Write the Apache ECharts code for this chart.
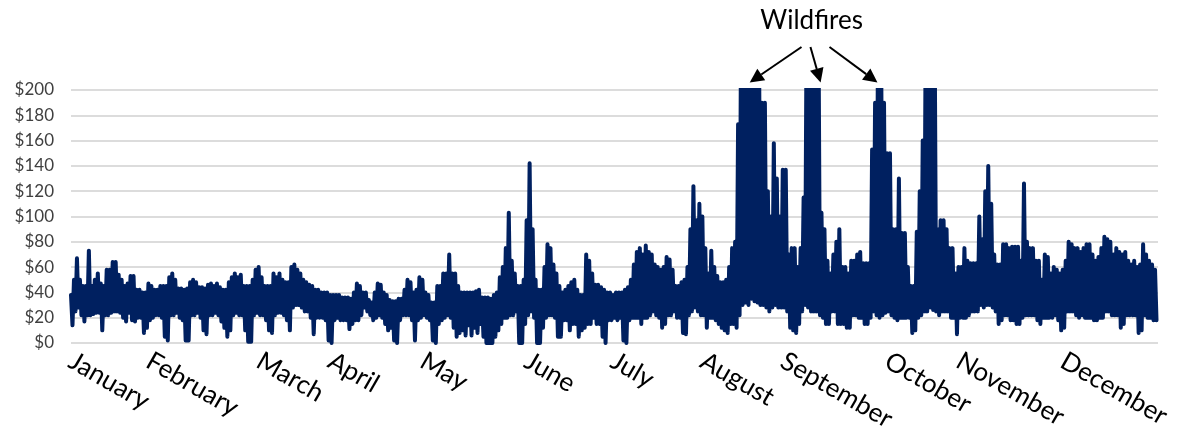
<!DOCTYPE html>
<html><head><meta charset="utf-8">
<script src="https://cdn.jsdelivr.net/npm/echarts@6/dist/echarts.min.js"></script>
<style>html,body{margin:0;padding:0;background:#fff}#c{width:1186px;height:442px}</style>
</head><body><div id="c"></div>
<script>
// Daily high / low price (index = day of year)
const dailyHigh = [
 38,50,67,50,45,45,73,45,50,55,
 47,45,58,58,64,64,54,50,45,47,
 53,53,42,42,40,40,47,45,42,42,
 45,45,45,52,55,50,43,43,42,43,
 48,50,48,44,44,43,46,47,45,47,
 44,42,42,48,52,55,52,54,45,45,
 45,50,58,60,52,45,45,45,55,52,
 55,50,48,48,60,62,58,55,50,48,
 46,45,42,42,40,40,40,38,38,38,
 38,36,36,36,35,40,47,45,40,40,
 34,32,40,47,46,40,38,34,33,33,
 35,35,42,50,48,40,42,52,50,40,
 38,32,32,45,45,55,55,70,55,55,
 45,40,40,40,40,40,41,42,36,36,
 36,35,38,40,52,60,75,103,65,55,
 45,45,50,97,142,90,50,42,42,60,
 78,75,62,55,45,40,42,45,48,50,
 42,38,38,70,65,55,46,46,44,42,
 40,40,38,40,40,40,42,44,50,62,
 72,75,70,77,72,70,62,60,58,60,
 68,66,58,45,45,48,50,60,90,124,
 97,110,100,75,55,73,60,53,48,48,
 50,60,75,80,173,250,250,250,250,250,
 250,250,190,190,120,100,158,130,100,137,
 137,70,75,75,60,75,115,250,250,250,
 250,250,103,90,65,55,70,80,90,60,
 60,55,65,65,70,72,63,63,63,153,
 190,250,250,190,150,150,90,90,130,87,
 87,60,45,45,88,120,160,250,250,250,
 250,90,97,97,90,75,75,55,60,60,
 75,65,63,63,63,100,82,120,140,110,
 70,62,62,78,78,75,76,76,76,65,
 126,80,75,75,65,65,50,70,68,55,
 60,58,55,58,65,80,78,75,75,72,
 75,78,78,70,65,68,75,84,82,80,
 70,75,72,70,72,65,62,65,60,62,
 78,70,65,62,58
];
const dailyLow = [
 14,25,28,22,17,22,22,23,24,24,
 10,22,22,24,25,25,24,20,17,24,
 18,17,20,20,8,12,18,20,22,22,
 20,5,2,22,22,24,20,18,2,2,
 22,22,24,20,10,7,22,22,24,22,
 17,12,5,10,22,24,22,22,10,1,
 1,22,24,22,22,18,10,8,22,24,
 24,22,18,10,28,30,30,28,25,25,
 20,7,20,20,20,18,2,0,18,20,
 18,18,18,11,15,18,18,22,28,25,
 22,18,20,22,20,15,10,12,2,0,
 18,22,22,22,18,2,18,20,22,20,
 18,2,0,15,18,20,22,20,12,5,
 8,10,6,14,6,12,8,15,5,0,
 0,0,5,10,15,20,20,22,22,25,
 0,0,15,22,25,20,0,0,12,20,
 22,22,20,5,5,18,18,10,15,15,
 5,10,12,15,15,20,15,15,5,0,
 18,18,20,18,20,2,0,18,20,20,
 20,15,20,20,22,25,22,20,12,15,
 22,22,25,20,20,8,7,22,25,28,
 25,22,22,12,20,20,18,15,12,10,
 8,15,15,12,22,30,32,30,35,33,
 32,30,30,28,25,28,30,28,28,28,
 25,12,10,8,15,25,30,28,25,25,
 25,22,20,15,15,25,25,15,15,15,
 12,12,22,22,20,20,15,15,20,25,
 22,20,22,24,25,22,20,18,20,20,
 20,20,8,10,20,22,25,25,28,26,
 25,22,25,25,25,20,20,7,20,20,
 20,22,25,25,25,30,28,30,30,28,
 25,15,18,22,22,18,18,15,15,20,
 22,22,22,22,18,15,20,20,20,20,
 22,18,10,12,25,25,25,22,20,22,
 20,20,20,18,18,20,20,25,25,22,
 22,22,12,15,22,22,22,22,8,10,
 22,20,20,18,18
];
// Month tick labels and the day-of-year where each label sits
const monthLabels = ['January','February','March','April','May','June','July','August','September','October','November','December'];
const monthLabelDays = [0,26,63,87,118,153,182,212,239,274,298,333];
// Annotation (data coordinates: [day, $])
const annotationText = 'Wildfires';
const annotationAnchor = [248.7, 255];
const arrowTails = [[245.3,234],[248.3,234],[254.7,234]];
const arrowTips  = [[227.9,206],[251.7,206],[270.8,206]];

const seriesData = [];
for (let d = 0; d < dailyHigh.length; d++) {
  seriesData.push([d, dailyHigh[d]]);
  seriesData.push([d + 0.5, dailyLow[d]]);
}
const labelByDay = {};
monthLabelDays.forEach((d, i) => { labelByDay[d] = monthLabels[i]; });

const FONT = 'Lato, "Open Sans", sans-serif';
const chart = echarts.init(document.getElementById('c'), null, {renderer: 'canvas'});
const option = {
  animation: false,
  backgroundColor: '#ffffff',
  grid: {left: 71, right: 28, top: 90, bottom: 99, outerBoundsMode: 'none', containLabel: false},
  xAxis: {
    type: 'value', min: 0, max: 365,
    splitLine: {show: false}, axisLine: {show: false}, axisTick: {show: false},
    axisLabel: {
      customValues: monthLabelDays, rotate: -30, margin: 16,
      fontFamily: FONT, fontSize: 26, color: '#000000',
      formatter: v => labelByDay[v] || ''
    }
  },
  yAxis: {
    type: 'value', min: 0, max: 200, interval: 20,
    axisLine: {show: false}, axisTick: {show: false},
    splitLine: {lineStyle: {color: '#d0d0d0', width: 1.5}},
    axisLabel: {formatter: v => '$' + v, fontFamily: FONT, fontSize: 17, color: '#404040', margin: 17}
  },
  series: [{
    type: 'line', data: seriesData, showSymbol: false, symbol: 'none',
    clip: true, silent: true,
    lineStyle: {color: '#002060', width: 4, join: 'round', cap: 'round'}
  }]
};
chart.setOption(option);

const px = p => chart.convertToPixel({gridIndex: 0}, p);
const g = [];
const lab = px(annotationAnchor);
g.push({type: 'text', x: lab[0], y: lab[1], style: {text: annotationText, fontSize: 26, fontFamily: FONT, fill: '#000', align: 'center', verticalAlign: 'middle'}});
arrowTails.forEach((t, i) => {
  const a = px(t), b = px(arrowTips[i]);
  const ang = Math.atan2(b[1] - a[1], b[0] - a[0]);
  const L = 14, W = 7;
  const bx = b[0] - L * Math.cos(ang), by = b[1] - L * Math.sin(ang);
  g.push({type: 'line', shape: {x1: a[0], y1: a[1], x2: bx, y2: by}, style: {stroke: '#000', lineWidth: 2}});
  g.push({type: 'polygon', shape: {points: [[b[0], b[1]], [bx - W * Math.sin(ang), by + W * Math.cos(ang)], [bx + W * Math.sin(ang), by - W * Math.cos(ang)]]}, style: {fill: '#000'}});
});
chart.setOption({graphic: g});
</script>
</body></html>
